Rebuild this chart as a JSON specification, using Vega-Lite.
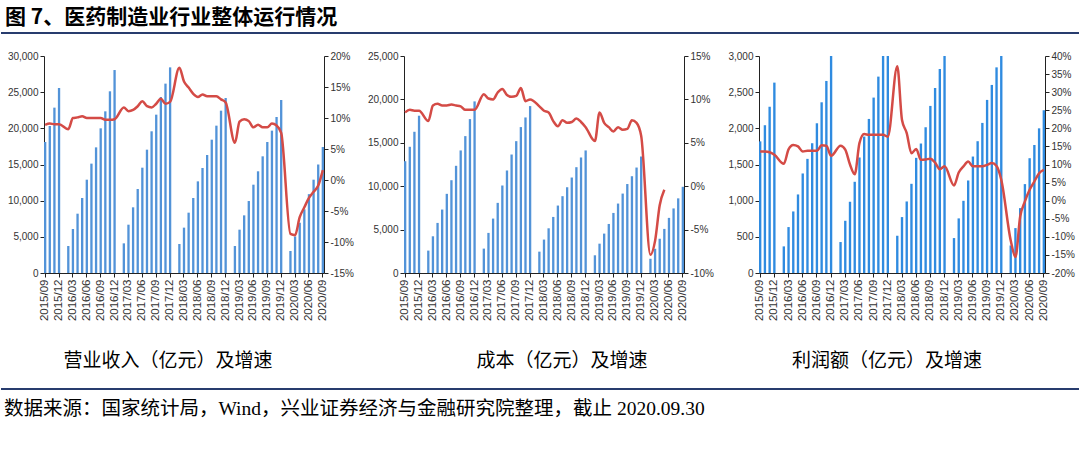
{
  "$schema": "https://vega.github.io/schema/vega-lite/v6.json",
  "padding": {"left": 0, "top": 4, "right": 0, "bottom": 0},
  "background": "#ffffff",
  "config": {
    "view": {"stroke": null},
    "axis": {"labelFont": "Liberation Sans", "labelFontSize": 10, "labelColor": "#333333", "domainColor": "#222222", "tickColor": "#222222", "tickSize": 4, "grid": false, "labelPadding": 2},
    "title": {"font": "Noto Sans CJK SC", "fontSize": 19, "fontWeight": "normal", "color": "#000000"}
  },
  "data": {"values": [
    {"m":"2015/09","rev":18110,"revG":8.9,"cost":12880,"costG":8.5,"prof":1820,"profG":13.6},
    {"m":"2015/10","rev":20320,"revG":9.1,"cost":14540,"costG":8.8,"prof":2043,"profG":13.6},
    {"m":"2015/11","rev":22860,"revG":9.0,"cost":16270,"costG":8.7,"prof":2300,"profG":13.4},
    {"m":"2015/12","rev":25580,"revG":9.0,"cost":18120,"costG":8.7,"prof":2632,"profG":12.7},
    {"m":"2016/01","rev":null,"revG":null,"cost":null,"costG":null,"prof":null,"profG":null},
    {"m":"2016/02","rev":3730,"revG":8.2,"cost":2580,"costG":7.5,"prof":368,"profG":10.2},
    {"m":"2016/03","rev":6080,"revG":10.0,"cost":4230,"costG":9.3,"prof":635,"profG":14.2},
    {"m":"2016/04","rev":8200,"revG":10.1,"cost":5770,"costG":9.5,"prof":851,"profG":15.4},
    {"m":"2016/05","rev":10370,"revG":10.3,"cost":7310,"costG":9.3,"prof":1086,"profG":15.0},
    {"m":"2016/06","rev":12900,"revG":10.0,"cost":9120,"costG":9.3,"prof":1376,"profG":13.6},
    {"m":"2016/07","rev":15120,"revG":10.0,"cost":10690,"costG":9.4,"prof":1578,"profG":13.8},
    {"m":"2016/08","rev":17370,"revG":10.0,"cost":12350,"costG":9.3,"prof":1794,"profG":13.8},
    {"m":"2016/09","rev":20000,"revG":10.0,"cost":14120,"costG":9.2,"prof":2070,"profG":13.8},
    {"m":"2016/10","rev":22350,"revG":9.7,"cost":15770,"costG":8.8,"prof":2360,"profG":15.3},
    {"m":"2016/11","rev":25120,"revG":9.7,"cost":17730,"costG":8.8,"prof":2655,"profG":15.2},
    {"m":"2016/12","rev":28060,"revG":9.8,"cost":19770,"costG":8.8,"prof":3110,"profG":12.4},
    {"m":"2017/01","rev":null,"revG":null,"cost":null,"costG":null,"prof":null,"profG":null},
    {"m":"2017/02","rev":4100,"revG":11.7,"cost":2810,"costG":10.6,"prof":428,"profG":15.2},
    {"m":"2017/03","rev":6680,"revG":11.1,"cost":4620,"costG":10.1,"prof":722,"profG":14.1},
    {"m":"2017/04","rev":9080,"revG":11.3,"cost":6270,"costG":10.0,"prof":985,"profG":10.0},
    {"m":"2017/05","rev":11610,"revG":11.9,"cost":8080,"costG":10.8,"prof":1261,"profG":7.3},
    {"m":"2017/06","rev":14560,"revG":12.7,"cost":10080,"costG":11.2,"prof":1597,"profG":15.9},
    {"m":"2017/07","rev":17050,"revG":11.9,"cost":11810,"costG":10.5,"prof":1886,"profG":18.4},
    {"m":"2017/08","rev":19590,"revG":11.7,"cost":13650,"costG":10.3,"prof":2130,"profG":18.2},
    {"m":"2017/09","rev":21890,"revG":12.3,"cost":15190,"costG":10.4,"prof":2425,"profG":18.2},
    {"m":"2017/10","rev":24330,"revG":13.1,"cost":16810,"costG":11.3,"prof":2715,"profG":18.2},
    {"m":"2017/11","rev":26180,"revG":12.3,"cost":17920,"costG":9.8,"prof":3050,"profG":18.2},
    {"m":"2017/12","rev":28430,"revG":12.6,"cost":19230,"costG":10.0,"prof":3520,"profG":17.7},
    {"m":"2018/01","rev":null,"revG":null,"cost":null,"costG":null,"prof":null,"profG":null},
    {"m":"2018/02","rev":4010,"revG":18.1,"cost":2460,"costG":9.2,"prof":515,"profG":37.2},
    {"m":"2018/03","rev":6270,"revG":15.9,"cost":3850,"costG":8.7,"prof":773,"profG":22.3},
    {"m":"2018/04","rev":8340,"revG":14.9,"cost":5150,"costG":8.5,"prof":989,"profG":18.7},
    {"m":"2018/05","rev":10370,"revG":13.9,"cost":6460,"costG":7.5,"prof":1233,"profG":13.1},
    {"m":"2018/06","rev":12670,"revG":13.4,"cost":7770,"costG":6.9,"prof":1592,"profG":14.3},
    {"m":"2018/07","rev":14520,"revG":13.8,"cost":8850,"costG":7.6,"prof":1790,"profG":11.3},
    {"m":"2018/08","rev":16310,"revG":13.5,"cost":9880,"costG":7.3,"prof":2015,"profG":11.4},
    {"m":"2018/09","rev":18430,"revG":13.5,"cost":11000,"costG":7.4,"prof":2310,"profG":11.6},
    {"m":"2018/10","rev":20370,"revG":13.5,"cost":12190,"costG":7.8,"prof":2558,"profG":10.5},
    {"m":"2018/11","rev":22440,"revG":13.0,"cost":13310,"costG":7.4,"prof":2820,"profG":8.7},
    {"m":"2018/12","rev":24190,"revG":12.5,"cost":14120,"costG":6.8,"prof":3090,"profG":9.5},
    {"m":"2019/01","rev":null,"revG":null,"cost":null,"costG":null,"prof":null,"profG":null},
    {"m":"2019/02","rev":3730,"revG":6.0,"cost":2040,"costG":5.2,"prof":483,"profG":4.2},
    {"m":"2019/03","rev":5990,"revG":9.4,"cost":3380,"costG":8.5,"prof":755,"profG":7.8},
    {"m":"2019/04","rev":7970,"revG":9.8,"cost":4540,"costG":7.3,"prof":998,"profG":9.5},
    {"m":"2019/05","rev":9950,"revG":9.5,"cost":5650,"costG":6.8,"prof":1279,"profG":10.8},
    {"m":"2019/06","rev":12210,"revG":8.5,"cost":6920,"costG":6.3,"prof":1610,"profG":9.5},
    {"m":"2019/07","rev":14060,"revG":8.9,"cost":8000,"costG":6.8,"prof":1822,"profG":9.5},
    {"m":"2019/08","rev":16130,"revG":8.5,"cost":9150,"costG":6.5,"prof":2075,"profG":9.5},
    {"m":"2019/09","rev":18110,"revG":8.5,"cost":10250,"costG":6.6,"prof":2393,"profG":9.9},
    {"m":"2019/10","rev":19680,"revG":9.1,"cost":11150,"costG":7.6,"prof":2600,"profG":10.4},
    {"m":"2019/11","rev":21570,"revG":8.8,"cost":12150,"costG":7.3,"prof":2843,"profG":9.6},
    {"m":"2019/12","rev":23920,"revG":7.6,"cost":13420,"costG":5.8,"prof":3180,"profG":5.8},
    {"m":"2020/01","rev":null,"revG":null,"cost":null,"costG":null,"prof":null,"profG":null},
    {"m":"2020/02","rev":3040,"revG":-8.7,"cost":1640,"costG":-7.9,"prof":380,"profG":-11.0},
    {"m":"2020/03","rev":5050,"revG":-8.9,"cost":2790,"costG":-6.3,"prof":621,"profG":-15.6},
    {"m":"2020/04","rev":6950,"revG":-6.0,"cost":3940,"costG":-2.2,"prof":897,"profG":-4.4},
    {"m":"2020/05","rev":8800,"revG":-4.4,"cost":5080,"costG":-0.4,"prof":1229,"profG":-0.2},
    {"m":"2020/06","rev":10900,"revG":-2.9,"cost":6350,"costG":null,"prof":1587,"profG":3.0},
    {"m":"2020/07","rev":12900,"revG":-1.9,"cost":7440,"costG":null,"prof":1770,"profG":5.3},
    {"m":"2020/08","rev":15000,"revG":-0.9,"cost":8600,"costG":null,"prof":2000,"profG":7.6},
    {"m":"2020/09","rev":17420,"revG":1.6,"cost":9930,"costG":null,"prof":2250,"profG":8.5}
  ]},
  "vconcat": [
    {
      "width": 1035, "height": 29,
      "data": {"values": [{"t": "图 7、医药制造业行业整体运行情况"}]},
      "layer": [
        {
          "mark": {"type": "text", "align": "left", "baseline": "middle", "font": "Noto Sans CJK SC", "fontWeight": "bold", "fontSize": 21, "color": "#000000", "dx": -39, "dy": -1},
          "encoding": {
            "text": {"field": "t"},
            "x": {"datum": 0, "type": "quantitative", "scale": {"domain": [0, 1]}, "axis": null}
          }
        },
        {
          "mark": {"type": "rule", "color": "#283C6E", "strokeWidth": 2, "xOffset": -43},
          "encoding": {
            "x": {"datum": 0, "type": "quantitative"},
            "x2": {"datum": 1},
            "y": {"datum": 0, "type": "quantitative", "scale": {"domain": [0, 1]}, "axis": null}
          }
        }
      ]
    },
    {
      "hconcat": [
        {
          "width": 280, "height": 217,
          "title": {"text": "营业收入（亿元）及增速", "orient": "bottom", "offset": 31, "dx": -16},
          "layer": [
            {
              "mark": {"type": "bar", "color": "#5293D8", "clip": true},
              "encoding": {
                "x": {"field": "m", "type": "ordinal", "title": null,
                  "scale": {"domain": ["2015/09","2015/10","2015/11","2015/12","2016/01","2016/02","2016/03","2016/04","2016/05","2016/06","2016/07","2016/08","2016/09","2016/10","2016/11","2016/12","2017/01","2017/02","2017/03","2017/04","2017/05","2017/06","2017/07","2017/08","2017/09","2017/10","2017/11","2017/12","2018/01","2018/02","2018/03","2018/04","2018/05","2018/06","2018/07","2018/08","2018/09","2018/10","2018/11","2018/12","2019/01","2019/02","2019/03","2019/04","2019/05","2019/06","2019/07","2019/08","2019/09","2019/10","2019/11","2019/12","2020/01","2020/02","2020/03","2020/04","2020/05","2020/06","2020/07","2020/08","2020/09"], "paddingInner": 0.5, "paddingOuter": 0},
                  "axis": {"values": ["2015/09","2015/12","2016/03","2016/06","2016/09","2016/12","2017/03","2017/06","2017/09","2017/12","2018/03","2018/06","2018/09","2018/12","2019/03","2019/06","2019/09","2019/12","2020/03","2020/06","2020/09"], "labelAngle": -90, "labelFontSize": 11.5, "labelAlign": "right", "labelBaseline": "middle"}},
                "y": {"field": "rev", "type": "quantitative", "title": null, "scale": {"domain": [0, 30000], "nice": false}, "axis": {"values": [0, 5000, 10000, 15000, 20000, 25000, 30000], "format": ",d"}}
              }
            },
            {
              "transform": [{"filter": "isValid(datum.revG)"}],
              "mark": {"type": "line", "color": "#D44B46", "strokeWidth": 2.5, "interpolate": "monotone"},
              "encoding": {
                "x": {"field": "m", "type": "ordinal"},
                "y": {"field": "revG", "type": "quantitative", "title": null, "scale": {"domain": [-15, 20], "nice": false, "zero": false}, "axis": {"orient": "right", "values": [-15, -10, -5, 0, 5, 10, 15, 20], "labelExpr": "datum.value + '%'"}}
              }
            }
          ],
          "resolve": {"scale": {"y": "independent"}}
        },
        {
          "width": 280, "height": 217,
          "title": {"text": "成本（亿元）及增速", "orient": "bottom", "offset": 31, "dx": 18},
          "layer": [
            {
              "mark": {"type": "bar", "color": "#5293D8", "clip": true},
              "encoding": {
                "x": {"field": "m", "type": "ordinal", "title": null,
                  "scale": {"domain": ["2015/09","2015/10","2015/11","2015/12","2016/01","2016/02","2016/03","2016/04","2016/05","2016/06","2016/07","2016/08","2016/09","2016/10","2016/11","2016/12","2017/01","2017/02","2017/03","2017/04","2017/05","2017/06","2017/07","2017/08","2017/09","2017/10","2017/11","2017/12","2018/01","2018/02","2018/03","2018/04","2018/05","2018/06","2018/07","2018/08","2018/09","2018/10","2018/11","2018/12","2019/01","2019/02","2019/03","2019/04","2019/05","2019/06","2019/07","2019/08","2019/09","2019/10","2019/11","2019/12","2020/01","2020/02","2020/03","2020/04","2020/05","2020/06","2020/07","2020/08","2020/09"], "paddingInner": 0.5, "paddingOuter": 0},
                  "axis": {"values": ["2015/09","2015/12","2016/03","2016/06","2016/09","2016/12","2017/03","2017/06","2017/09","2017/12","2018/03","2018/06","2018/09","2018/12","2019/03","2019/06","2019/09","2019/12","2020/03","2020/06","2020/09"], "labelAngle": -90, "labelFontSize": 11.5, "labelAlign": "right", "labelBaseline": "middle"}},
                "y": {"field": "cost", "type": "quantitative", "title": null, "scale": {"domain": [0, 25000], "nice": false}, "axis": {"values": [0, 5000, 10000, 15000, 20000, 25000], "format": ",d"}}
              }
            },
            {
              "transform": [{"filter": "isValid(datum.costG)"}],
              "mark": {"type": "line", "color": "#D44B46", "strokeWidth": 2.5, "interpolate": "monotone"},
              "encoding": {
                "x": {"field": "m", "type": "ordinal"},
                "y": {"field": "costG", "type": "quantitative", "title": null, "scale": {"domain": [-10, 15], "nice": false, "zero": false}, "axis": {"orient": "right", "values": [-10, -5, 0, 5, 10, 15], "labelExpr": "datum.value + '%'"}}
              }
            }
          ],
          "resolve": {"scale": {"y": "independent"}}
        },
        {
          "width": 286, "height": 217,
          "title": {"text": "利润额（亿元）及增速", "orient": "bottom", "offset": 31, "dx": -15},
          "layer": [
            {
              "mark": {"type": "bar", "color": "#2F8BE0", "clip": true},
              "encoding": {
                "x": {"field": "m", "type": "ordinal", "title": null,
                  "scale": {"domain": ["2015/09","2015/10","2015/11","2015/12","2016/01","2016/02","2016/03","2016/04","2016/05","2016/06","2016/07","2016/08","2016/09","2016/10","2016/11","2016/12","2017/01","2017/02","2017/03","2017/04","2017/05","2017/06","2017/07","2017/08","2017/09","2017/10","2017/11","2017/12","2018/01","2018/02","2018/03","2018/04","2018/05","2018/06","2018/07","2018/08","2018/09","2018/10","2018/11","2018/12","2019/01","2019/02","2019/03","2019/04","2019/05","2019/06","2019/07","2019/08","2019/09","2019/10","2019/11","2019/12","2020/01","2020/02","2020/03","2020/04","2020/05","2020/06","2020/07","2020/08","2020/09"], "paddingInner": 0.5, "paddingOuter": 0},
                  "axis": {"values": ["2015/09","2015/12","2016/03","2016/06","2016/09","2016/12","2017/03","2017/06","2017/09","2017/12","2018/03","2018/06","2018/09","2018/12","2019/03","2019/06","2019/09","2019/12","2020/03","2020/06","2020/09"], "labelAngle": -90, "labelFontSize": 11.5, "labelAlign": "right", "labelBaseline": "middle"}},
                "y": {"field": "prof", "type": "quantitative", "title": null, "scale": {"domain": [0, 3000], "nice": false}, "axis": {"values": [0, 500, 1000, 1500, 2000, 2500, 3000], "format": ",d"}}
              }
            },
            {
              "transform": [{"filter": "isValid(datum.profG)"}],
              "mark": {"type": "line", "color": "#D44B46", "strokeWidth": 2.5, "interpolate": "monotone"},
              "encoding": {
                "x": {"field": "m", "type": "ordinal"},
                "y": {"field": "profG", "type": "quantitative", "title": null, "scale": {"domain": [-20, 40], "nice": false, "zero": false}, "axis": {"orient": "right", "values": [-20, -15, -10, -5, 0, 5, 10, 15, 20, 25, 30, 35, 40], "labelExpr": "datum.value + '%'"}}
              }
            }
          ],
          "resolve": {"scale": {"y": "independent"}}
        }
      ],
      "spacing": 13
    },
    {
      "width": 1035, "height": 40,
      "data": {"values": [{"t": "数据来源：国家统计局，Wind，兴业证券经济与金融研究院整理，截止 2020.09.30"}]},
      "layer": [
        {
          "mark": {"type": "text", "align": "left", "baseline": "middle", "font": "Liberation Serif, Noto Sans CJK SC", "fontSize": 19.5, "color": "#000000", "dx": -40},
          "encoding": {
            "text": {"field": "t"},
            "x": {"datum": 0, "type": "quantitative", "scale": {"domain": [0, 1]}, "axis": null}
          }
        },
        {
          "mark": {"type": "rule", "color": "#283C6E", "strokeWidth": 2, "xOffset": -43},
          "encoding": {
            "x": {"datum": 0, "type": "quantitative"},
            "x2": {"datum": 1},
            "y": {"datum": 1, "type": "quantitative", "scale": {"domain": [0, 1]}, "axis": null}
          }
        }
      ]
    }
  ],
  "spacing": 17
}
